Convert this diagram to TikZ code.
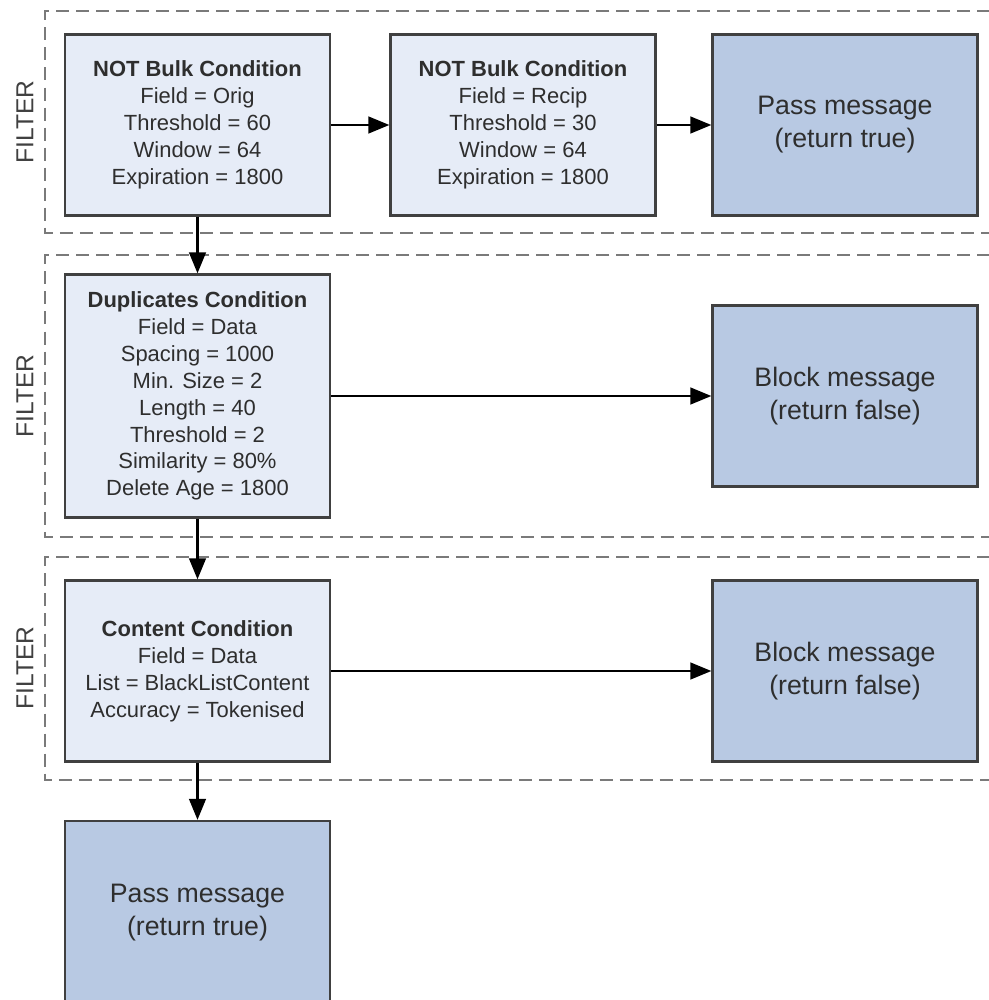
\documentclass[tikz,border=0pt]{standalone}
\usepackage{fontspec}
\setmainfont{Liberation Sans}
\usepackage{tikz}
\usetikzlibrary{arrows.meta}
\definecolor{condfill}{HTML}{E6ECF7}
\definecolor{resfill}{HTML}{B8C9E3}
\definecolor{edgegray}{HTML}{404040}
\definecolor{textgray}{HTML}{2E2E2E}
\definecolor{dashgray}{HTML}{7A7A7A}
\tikzset{
	cond/.style={rectangle,draw=edgegray,fill=condfill,line width=1.3pt,align=center,text=textgray,
		minimum width=5.3cm,minimum height=3.62cm,inner sep=0pt,font=\fontsize{12.5}{15.3}\selectfont},
	result/.style={rectangle,draw=edgegray,fill=resfill,line width=1.3pt,align=center,text=textgray,
		minimum width=5.3cm,minimum height=3.62cm,inner sep=0pt,font=\fontsize{15.2}{18.8}\selectfont},
	filterbox/.style={draw=dashgray,line width=1.3pt,dash pattern=on 7.4pt off 4pt},
	filterlabel/.style={rotate=90,text=edgegray,font=\fontsize{14}{16}\selectfont},
	flow/.style={->,black,line width=1.4pt},
	>={Triangle[length=12pt,width=9.5pt]},
	}
\begin{document}
\begin{tikzpicture}[x=0.02cm,y=-0.02cm]
\useasboundingbox (0,0) rectangle (989,1000);
%FILTRI
\draw[filterbox] (1010,11) -- (45,11) -- (45,233) -- (1010,233);
\draw[filterbox] (1010,255) -- (45,255) -- (45,537) -- (1010,537);
\draw[filterbox] (1010,557) -- (45,557) -- (45,780) -- (1010,780);
\node[filterlabel] (f1) at (25,122) {FILTER};
\node[filterlabel] (f2) at (25,396) {FILTER};
\node[filterlabel] (f3) at (25,668) {FILTER};
%NODI
\node[cond] (bulk1) at (197.5,125) {\textbf{NOT Bulk Condition}\\Field = Orig\\Threshold = 60\\Window = 64\\Expiration = 1800};
\node[cond] (bulk2) at (523,125) {\textbf{NOT Bulk Condition}\\Field = Recip\\Threshold = 30\\Window = 64\\Expiration = 1800};
\node[result] (pass1) at (845,125) {Pass message\\(return true)};
\node[cond,minimum height=4.86cm] (dup) at (197.5,396) {\textbf{Duplicates Condition}\\Field = Data\\Spacing = 1000\\Min. Size = 2\\Length = 40\\Threshold = 2\\Similarity = 80\%\\Delete Age = 1800};
\node[result] (block1) at (845,396) {Block message\\(return false)};
\node[cond] (content) at (197.5,671) {\textbf{Content Condition}\\Field = Data\\List = BlackListContent\\Accuracy = Tokenised};
\node[result] (block2) at (845,671) {Block message\\(return false)};
\node[result,minimum height=3.76cm] (pass2) at (197.5,915) {};
\node[text=textgray,align=center,font=\fontsize{15.2}{18.8}\selectfont] (pass2txt) at (197.5,913) {Pass message\\(return true)};
%FRECCE
\draw[flow] (bulk1) -- (bulk2);
\draw[flow] (bulk2) -- (pass1);
\draw[flow] (bulk1) -- (dup);
\draw[flow] (dup) -- (block1);
\draw[flow] (dup) -- (content);
\draw[flow] (content) -- (block2);
\draw[flow] (content) -- (pass2);
\end{tikzpicture}
\end{document}
